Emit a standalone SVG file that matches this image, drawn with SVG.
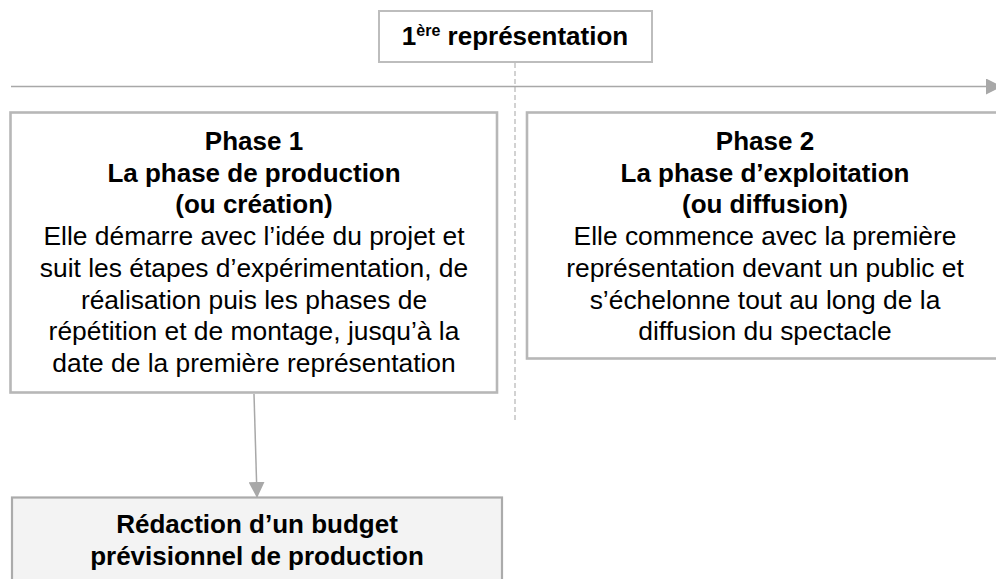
<svg xmlns="http://www.w3.org/2000/svg" width="996" height="579" viewBox="0 0 996 579">
<style>
  .box{fill:#ffffff;stroke:#b7b7b7;stroke-width:2.6}
  .title{fill:#ffffff;stroke:#bdbdbd;stroke-width:2}
  .grey{fill:#f3f3f3;stroke:#ababab;stroke-width:2.2}
  .b{font-family:"Liberation Sans",Arial,Helvetica,sans-serif;font-weight:bold;font-size:26px;fill:#000;text-anchor:middle}
  .r{font-family:"Liberation Sans",Arial,Helvetica,sans-serif;font-size:26.4px;fill:#000;text-anchor:middle}
  .conn{stroke:#a8a8a8;stroke-width:1.5;fill:none}
  .dash{stroke:#bbbbbb;stroke-width:1.3;stroke-dasharray:5 3;fill:none}
</style>
<defs>
  <marker id="ah" markerUnits="userSpaceOnUse" markerWidth="16" markerHeight="16" viewBox="0 0 16 16" refX="15" refY="8" orient="auto">
    <path d="M0,0 L16,8 L0,16 Z" fill="#a8a8a8"/>
  </marker>
</defs>
<g id="connectors">
  <line class="dash" x1="515" y1="63" x2="515" y2="422"/>
  <line class="conn" x1="11" y1="86.5" x2="1001" y2="86.5" marker-end="url(#ah)"/>
  <line class="conn" x1="254" y1="394" x2="257" y2="497" marker-end="url(#ah)"/>
</g>
<g id="premiere">
  <rect class="title" x="379" y="11" width="273" height="51"/>
  <text class="b" x="515" y="44.5">1<tspan font-size="16" dy="-9">ère</tspan><tspan dy="9"> représentation</tspan></text>
</g>
<g id="phase1">
  <rect class="box" x="10.5" y="112.5" width="486.5" height="280"/>
  <text class="b" x="254" y="150">Phase 1</text>
  <text class="b" x="254" y="181.6">La phase de production</text>
  <text class="b" x="254" y="213.2">(ou création)</text>
  <text class="r" x="254" y="245.4">Elle démarre avec l’idée du projet et</text>
  <text class="r" x="254" y="277">suit les étapes d’expérimentation, de</text>
  <text class="r" x="254" y="308.6">réalisation puis les phases de</text>
  <text class="r" x="254" y="340.2">répétition et de montage, jusqu’à la</text>
  <text class="r" x="254" y="371.8">date de la première représentation</text>
</g>
<g id="phase2">
  <rect class="box" x="527" y="112.5" width="476" height="246"/>
  <text class="b" x="765" y="150">Phase 2</text>
  <text class="b" x="765" y="181.6">La phase d’exploitation</text>
  <text class="b" x="765" y="213.2">(ou diffusion)</text>
  <text class="r" x="765" y="245.4">Elle commence avec la première</text>
  <text class="r" x="765" y="277">représentation devant un public et</text>
  <text class="r" x="765" y="308.6">s’échelonne tout au long de la</text>
  <text class="r" x="765" y="340.2">diffusion du spectacle</text>
</g>
<g id="budget">
  <rect class="grey" x="12" y="497.5" width="490" height="100"/>
  <text class="b" x="257" y="533">Rédaction d’un budget</text>
  <text class="b" x="257" y="565">prévisionnel de production</text>
</g>
</svg>
